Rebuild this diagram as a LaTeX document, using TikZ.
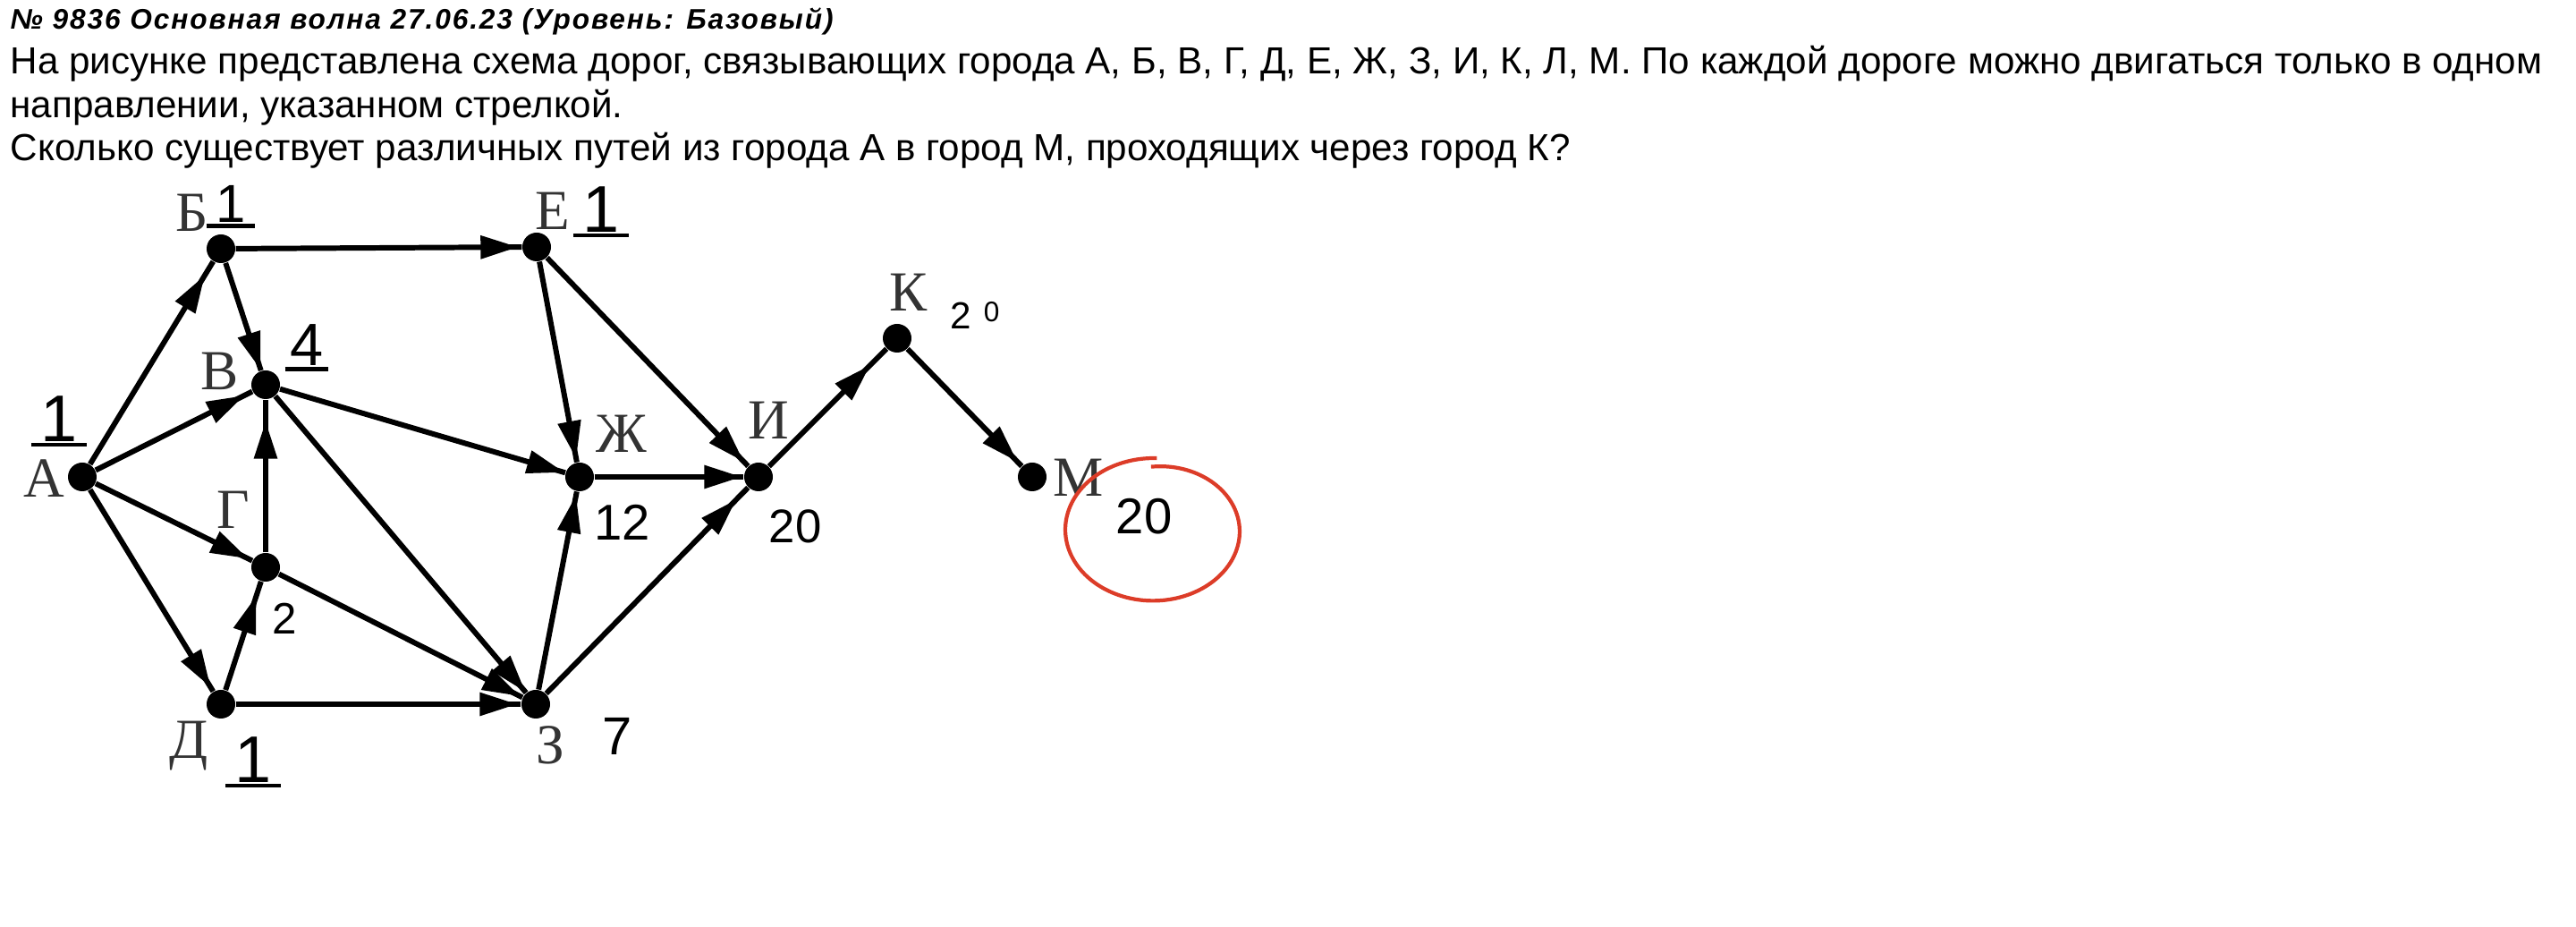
\documentclass[tikz,border=0pt]{standalone}
\usepackage{fontspec}
\setmainfont{Liberation Serif}
\newfontfamily\taskfont{Liberation Sans}
\newfontfamily\titlefont[LetterSpace=6]{Liberation Sans}
\newfontfamily\handfont{Liberation Sans}
\usetikzlibrary{arrows.meta, decorations.markings}
\definecolor{cwMark}{HTML}{DC3C28}
\tikzset{
    % cities and their names
    city/.style={circle, fill=black, inner sep=0pt, minimum size=0.32cm},
    cityname/.style={font=\fontsize{18}{18}\selectfont, text=black!80, inner sep=0pt},
    % handwritten path counts
    tally/.style={font=\handfont\fontsize{16}{16}\selectfont, inner sep=0pt},
    bigtally/.style={font=\handfont\fontsize{21}{21}\selectfont, inner xsep=0.1cm, inner ysep=0.03cm},
    % one-way roads, arrow tip set back from the end
    road/.style={line width=1.7pt, postaction={decorate},
        decoration={markings, mark=at position -#1 with {\arrow{Triangle[length=4.2mm, width=2.5mm]}}}},
    road/.default=0.04cm,
    % task text
    task/.style={anchor=base west, inner sep=0pt, font=\taskfont\fontsize{12}{14}\selectfont}
}

\begin{document}
\begin{tikzpicture}
    \useasboundingbox (0,0) rectangle (28.8,10.36);

    % Task text
    \node[task, font=\titlefont\bfseries\itshape\fontsize{9}{10}\selectfont] (title) at (0.11,10.03) {№ 9836 Основная волна 27.06.23 (Уровень: Базовый)};
    \node[task] (line1) at (0.11,9.53) {На рисунке представлена схема дорог, связывающих города А, Б, В, Г, Д, Е, Ж, З, И, К, Л, М. По каждой дороге можно двигаться только в одном};
    \node[task] (line2) at (0.11,9.04) {направлении, указанном стрелкой.};
    \node[task] (line3) at (0.11,8.56) {Сколько существует различных путей из города А в город М, проходящих через город К?};

    % Cities
    \node[city] (A) at (0.92,5.03) {};
    \node[city] (B) at (2.47,7.58) {};
    \node[city] (V) at (2.97,6.06) {};
    \node[city] (G) at (2.97,4.02) {};
    \node[city] (D) at (2.47,2.49) {};
    \node[city] (E) at (6.00,7.60) {};
    \node[city] (Zh) at (6.48,5.03) {};
    \node[city] (Z) at (5.99,2.49) {};
    \node[city] (I) at (8.48,5.03) {};
    \node[city] (K) at (10.03,6.58) {};
    \node[city] (M) at (11.54,5.03) {};

    % City names
    \node[cityname] (lA) at (0.49,5.01) {А};
    \node[cityname] (lB) at (2.15,7.98) {Б};
    \node[cityname] (lV) at (2.46,6.21) {В};
    \node[cityname] (lG) at (2.61,4.66) {Г};
    \node[cityname] (lD) at (2.11,2.02) {Д};
    \node[cityname] (lE) at (6.18,8.00) {Е};
    \node[cityname] (lZh) at (6.95,5.51) {Ж};
    \node[cityname] (lZ) at (6.15,2.03) {З};
    \node[cityname] (lI) at (8.59,5.66) {И};
    \node[cityname] (lK) at (10.16,7.09) {К};
    \node[cityname] (lM) at (12.06,5.02) {М};

    % Roads
    \draw[road=0.18cm] (A) -- (B);
    \draw[road=0.10cm] (A) -- (V);
    \draw[road=0.05cm] (A) -- (G);
    \draw[road=0.05cm] (A) -- (D);
    \draw[road=0.01cm] (B) -- (V);
    \draw[road] (B) -- (E);
    \draw[road=0.24cm] (G) -- (V);
    \draw[road=0.17cm] (D) -- (G);
    \draw[road] (D) -- (Z);
    \draw[road=0.01cm] (V) -- (Zh);
    \draw[road=0.01cm] (V) -- (Z);
    \draw[road=0.03cm] (G) -- (Z);
    \draw[road] (E) -- (Zh);
    \draw[road=0.06cm] (E) -- (I);
    \draw[road=0.02cm] (Zh) -- (I);
    \draw[road] (Z) -- (Zh);
    \draw[road=0.18cm] (Z) -- (I);
    \draw[road=0.26cm] (I) -- (K);
    \draw[road=0.07cm] (K) -- (M);

    % Handwritten counts
    \node[bigtally] (nA) at (0.66,5.68) {1};
    \node[bigtally, font=\handfont\fontsize{17}{17}\selectfont] (nB) at (2.58,8.08) {1};
    \node[bigtally] (nE) at (6.72,8.02) {1};
    \node[bigtally, font=\handfont\fontsize{19}{19}\selectfont, inner xsep=0.05cm] (nV) at (3.43,6.50) {4};
    \node[bigtally] (nD) at (2.83,1.87) {1};
    \foreach \n in {nA,nB,nE,nV,nD}
        \draw[line width=1.3pt] (\n.south west) -- (\n.south east);
    \node[tally, font=\handfont\fontsize{14}{14}\selectfont] (nG) at (3.18,3.45) {2};
    \node[tally] (nZh) at (6.96,4.52) {12};
    \node[tally, font=\handfont\fontsize{15}{15}\selectfont] (nI) at (8.89,4.48) {20};
    \node[tally, font=\handfont\fontsize{17}{17}\selectfont] (nZ) at (6.90,2.13) {7};
    \node[tally, font=\handfont\fontsize{12}{12}\selectfont] (nK) at (10.90,6.84) {2\hspace{0.14cm}\raisebox{0.08cm}{\fontsize{9}{9}\selectfont 0}};
    \node[tally] (nM) at (12.79,4.59) {20};

    % Answer circled in red
    \draw[cwMark, line width=1.2pt] plot[domain=88:452, samples=90, smooth]
        ({12.90+0.99*(1-0.1*((\x-88)/364)^4)*cos(\x)}, {4.44+0.80*(1-0.12*((\x-88)/364)^4)*sin(\x)});
\end{tikzpicture}
\end{document}
